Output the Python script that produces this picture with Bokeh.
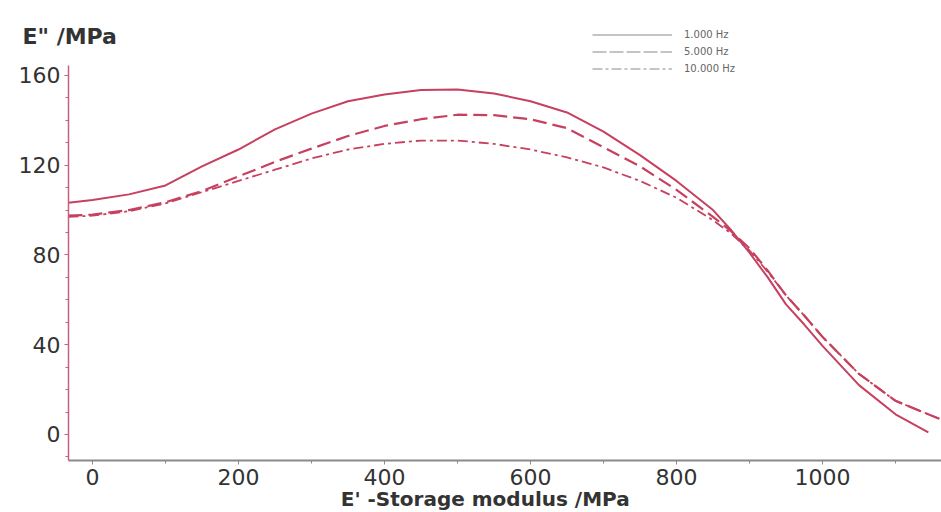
from bokeh.plotting import figure
from bokeh.models import Range1d, SingleIntervalTicker, Legend, LegendItem, Label
from bokeh.embed import file_html
from bokeh.resources import INLINE

# Data
x_1hz = [-33, 0, 50, 100, 150, 200, 250, 300, 350, 400, 450, 500, 550, 600, 650, 700, 750, 800, 850, 875, 900, 925, 950, 975, 1000, 1050, 1100, 1145]
y_1hz = [103.3, 104.5, 107, 111, 119.5, 127, 136, 143, 148.5, 151.5, 153.5, 153.7, 152, 148.5, 143.5, 135, 124.5, 113, 100, 91, 81, 70, 58, 49, 39.5, 22, 9, 1]

x_5hz = [-33, 0, 50, 100, 150, 200, 250, 300, 350, 400, 450, 500, 550, 600, 650, 700, 750, 800, 850, 875, 900, 925, 950, 975, 1000, 1050, 1100, 1160]
y_5hz = [97.5, 98, 100, 103.5, 108.5, 115, 121.5, 127.4, 133, 137.5, 140.5, 142.5, 142.3, 140.5, 136.5, 128, 119.5, 109, 97, 90.5, 83, 73, 62, 53, 43.5, 27, 15, 7]

x_10hz = [-33, 0, 50, 100, 150, 200, 250, 300, 350, 400, 450, 500, 550, 600, 650, 700, 750, 800, 850, 875, 900, 925, 950, 975, 1000, 1050, 1100, 1160]
y_10hz = [97, 97.5, 99.5, 103, 108, 113, 118, 123, 127, 129.5, 131, 131, 129.5, 127, 123.5, 119, 113, 105.5, 95.5, 89.5, 82, 72.5, 62, 53, 43.5, 27, 15, 7]

series_labels = ["1.000 Hz", "5.000 Hz", "10.000 Hz"]
x_title = "E' -Storage modulus /MPa"
y_title = 'E" /MPa'

LINE = "#c7405f"
FONT = "DejaVu Sans"

p = figure(width=941, height=512, output_backend="svg", toolbar_location=None,
           x_range=Range1d(-126.0, 1163.0), y_range=Range1d(-34.76, 193.4),
           min_border=0)
p.outline_line_color = None
p.xgrid.visible = False
p.ygrid.visible = False
p.background_fill_color = "white"

p.line(x_1hz, y_1hz, line_color=LINE, line_width=2)
p.line(x_5hz, y_5hz, line_color=LINE, line_width=2.2, line_dash="14 6")
p.line(x_10hz, y_10hz, line_color=LINE, line_width=1.8, line_dash="10 4 3 4")

# legend-only renderers (grey samples as in the reference), placed off-range
off_x = [-2000, -1999]
off_y = [-2000, -2000]
l1 = p.line(off_x, off_y, line_color="#8a8a8a", line_width=1)
l2 = p.line(off_x, off_y, line_color="#8a8a8a", line_width=1, line_dash="14 3")
l3 = p.line(off_x, off_y, line_color="#8a8a8a", line_width=1, line_dash="10 3 3 3")
legend = Legend(items=[LegendItem(label=series_labels[0], renderers=[l1]),
                       LegendItem(label=series_labels[1], renderers=[l2]),
                       LegendItem(label=series_labels[2], renderers=[l3])],
                location=(592, 436), glyph_width=80, glyph_height=15, label_height=15,
                label_standoff=12, spacing=2, padding=0, margin=0,
                border_line_alpha=0, background_fill_alpha=0,
                label_text_font=FONT, label_text_font_size="10px", label_text_color="#666666")
p.add_layout(legend, "center")

# axes drawn at fixed positions
p.xaxis.fixed_location = -11.6
p.xaxis.bounds = (-32.9, 1163)
p.yaxis.fixed_location = -32.9
p.yaxis.bounds = (-11.6, 164.4)
p.xaxis.ticker = SingleIntervalTicker(interval=200, num_minor_ticks=2)
p.yaxis.ticker = SingleIntervalTicker(interval=40, num_minor_ticks=4)
for ax in (p.xaxis, p.yaxis):
    ax.major_label_text_font = FONT
    ax.major_label_text_font_size = "22px"
    ax.major_label_text_color = "#333333"
    ax.major_tick_in = 0
    ax.major_tick_out = 4
    ax.minor_tick_in = 0
    ax.minor_tick_out = 3
p.yaxis.axis_line_color = "#c7607c"
p.yaxis.axis_line_width = 1.5
p.yaxis.major_tick_line_color = "#c7607c"
p.yaxis.minor_tick_line_color = "#c7607c"
p.xaxis.axis_line_color = "#8a8a8a"
p.xaxis.axis_line_width = 2
p.xaxis.major_tick_line_color = "#8a8a8a"
p.xaxis.minor_tick_line_color = "#8a8a8a"
p.xaxis.major_label_standoff = 4
p.yaxis.major_label_standoff = 4

# axis titles
p.add_layout(Label(x=22, y=476, x_units="screen", y_units="screen", text=y_title,
                   text_font=FONT, text_font_style="bold", text_font_size="22px",
                   text_color="#333333", text_baseline="alphabetic"))
p.add_layout(Label(x=538, y=14, x_units="data", y_units="screen",
                   text=x_title, text_align="center",
                   text_font=FONT, text_font_style="bold", text_font_size="20px",
                   text_color="#333333", text_baseline="alphabetic"))

open("out.html", "w").write(file_html(p, INLINE))
